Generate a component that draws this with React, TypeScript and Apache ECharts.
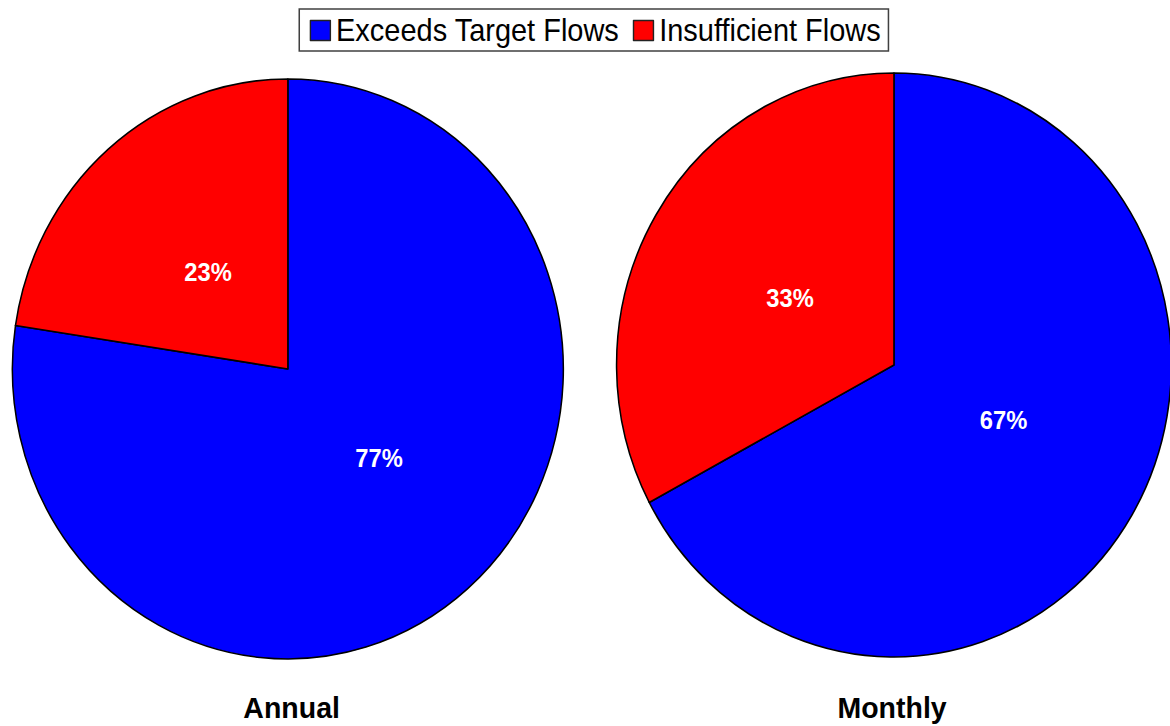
import React, { useEffect, useRef } from "react";
import * as echarts from "echarts";

const categories = ["Exceeds Target Flows", "Insufficient Flows"];
const colors = ["#0000FF", "#FF0000"];
const annualValues = [77.4, 22.6];
const monthlyValues = [67.2, 32.8];
const panelTitles = ["Annual", "Monthly"];

const FONT = "'Liberation Sans', Arial, Helvetica, sans-serif";
// the reference is squeezed horizontally; reproduce with a CSS scaleX
const SX = 0.95;
const W = 1170 / SX;
const H = 726;

export default function App() {
  const ref = useRef<HTMLDivElement>(null);

  useEffect(() => {
    if (!ref.current) return;
    const chart = echarts.init(ref.current, null, { renderer: "svg" });

    const mainPie = (vals: number[], center: [number, number], r: number) => ({
      type: "pie",
      center,
      radius: [0, r],
      startAngle: 90,
      clockwise: true,
      avoidLabelOverlap: false,
      silent: true,
      label: { show: false },
      labelLine: { show: false },
      emphasis: { disabled: true },
      itemStyle: { borderColor: "#000", borderWidth: 1.6 },
      data: vals.map((v, i) => ({ name: categories[i], value: v, itemStyle: { color: colors[i] } })),
    });

    const labelPie = (
      vals: number[],
      center: [number, number],
      r: number,
      offsets: [number, number][]
    ) => ({
      type: "pie",
      center,
      radius: [0, r],
      startAngle: 90,
      clockwise: true,
      avoidLabelOverlap: false,
      silent: true,
      percentPrecision: 0,
      label: {
        show: true,
        position: "inside",
        formatter: "{d}%",
        color: "#fff",
        fontFamily: FONT,
        fontWeight: "bold",
        fontSize: 25,
      },
      labelLine: { show: false },
      emphasis: { disabled: true },
      itemStyle: { color: "transparent", borderWidth: 0 },
      data: vals.map((v, i) => ({
        name: categories[i],
        value: v,
        itemStyle: { color: "transparent" },
        label: { offset: offsets[i] },
      })),
    });

    const titleStyle = { fontFamily: FONT, fontWeight: "bold", fontSize: 30, color: "#000" };

    chart.setOption({
      animation: false,
      backgroundColor: "#fff",
      title: [
        { text: panelTitles[0], left: 302, top: 688, textAlign: "center", textStyle: titleStyle },
        { text: panelTitles[1], left: 934, top: 688, textAlign: "center", textStyle: titleStyle },
      ],
      legend: {
        data: categories,
        left: 315,
        top: 9,
        orient: "horizontal",
        icon: "rect",
        itemWidth: 21,
        itemHeight: 20,
        itemGap: 14,
        padding: [6, 8, 5, 11],
        borderColor: "#404040",
        borderWidth: 1.6,
        backgroundColor: "#fff",
        selectedMode: false,
        itemStyle: { borderColor: "#222", borderWidth: 1.5 },
        textStyle: { fontFamily: FONT, fontSize: 30.5, color: "#000", padding: [0, 0, 0, 1] },
      },
      series: [
        mainPie(annualValues, [303, 369], 290),
        mainPie(monthlyValues, [941, 365], 292),
        labelPie(annualValues, [303, 369], 258, [[10, -11], [2, 3]]),
        labelPie(monthlyValues, [941, 365], 256, [[3, -12], [3, 1]]),
      ],
    });

    return () => chart.dispose();
  }, []);

  return (
    <div style={{ position: "absolute", left: 0, top: 0, width: 1170, height: H, overflow: "hidden" }}>
      <div
        ref={ref}
        style={{
          width: W,
          height: H,
          transform: `scaleX(${SX})`,
          transformOrigin: "0 0",
        }}
      />
    </div>
  );
}
